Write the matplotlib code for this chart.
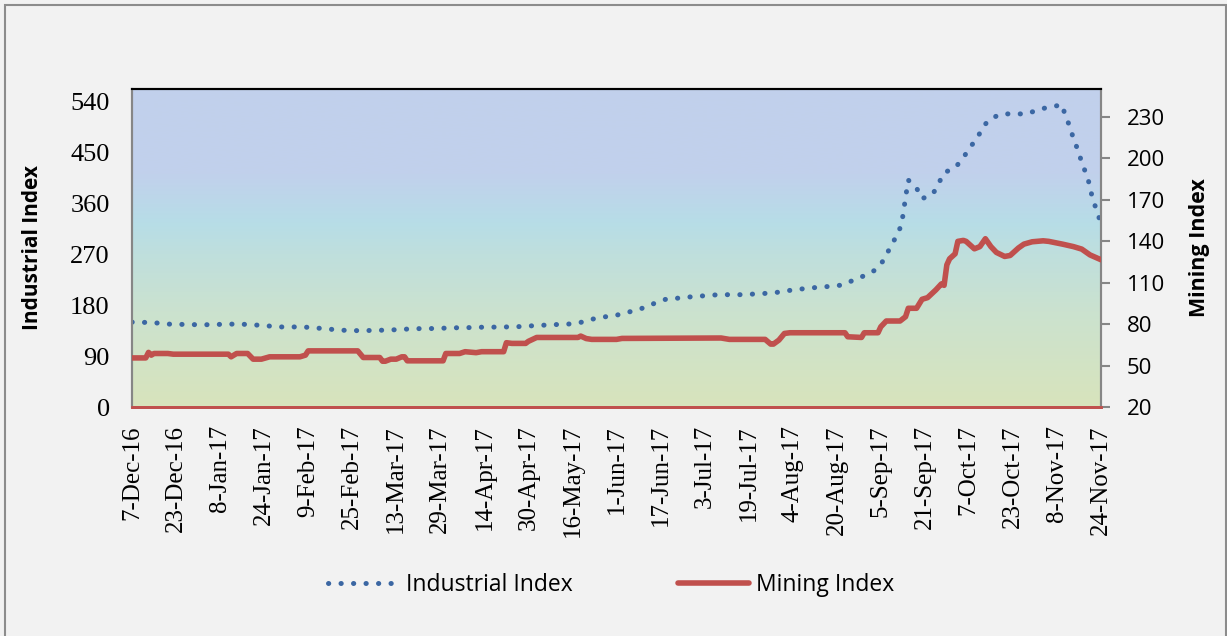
"""
Industrial vs Mining index, Dec-2016 to Nov-2017 (dual axis, Excel look).
"""
import numpy as np
import pandas as pd
import matplotlib
matplotlib.use("Agg")
import matplotlib.pyplot as plt
import matplotlib.dates as mdates
from matplotlib.colors import LinearSegmentedColormap
from matplotlib.patches import Rectangle

BLUE = "#3b67a3"
RED = "#c0504d"
BG = "#f2f2f2"
SERIF = ["Liberation Serif", "DejaVu Serif"]
SANS = ["Open Sans", "DejaVu Sans"]

START = pd.Timestamp("2016-12-07")

# days after 7-Dec-2016 and index values
IND_DAYS = [0, 2, 7, 11, 16, 21, 25, 30, 34, 39, 43, 48, 52, 57, 62, 66, 71,
            75, 80, 84, 89, 93, 98, 102, 107, 112, 116, 121, 125, 130, 134,
            139, 143, 148, 152, 157, 162, 166, 171, 175, 179, 183, 187, 191,
            195, 200, 204, 208, 213, 218, 222, 227, 231, 236, 240, 245, 249,
            253, 258, 262, 266, 270, 273, 275, 277, 279, 280, 281, 282, 285,
            287, 291, 293, 295, 299, 302, 304, 307, 309, 312, 316, 320, 325,
            329, 333, 338, 339, 341, 342, 344, 345, 347, 348, 349, 351, 352]
IND_VALUES = [150, 149, 150, 147, 146, 146, 145, 146, 146, 147, 145, 144.5,
              141.5, 141.5, 141.5, 140, 138, 136, 135, 135, 135.5, 136, 137,
              138.5, 138.5, 139, 140, 140, 141, 141, 141.5, 141.5, 143, 144,
              145.5, 146, 148, 154, 159, 161, 166, 171, 177, 186, 192, 192.5,
              195.5, 196.5, 198.5, 198.5, 198.5, 200, 201, 203.5, 207, 209.5,
              211.5, 213, 215.5, 224, 232, 242, 259, 278, 296, 316, 337, 370,
              401, 387, 368, 377, 395, 414, 423, 440, 457, 474, 495, 510, 518,
              518, 518, 525, 530, 534, 514, 493, 472, 451, 430, 409, 388, 367,
              340, 321]

MIN_DAYS = [0, 5, 6, 7, 8, 13, 15, 35, 36, 38, 42, 44, 47, 50, 61, 63, 64,
            82, 84, 90, 91, 92, 94, 96, 98, 99, 100, 113, 114, 119, 121, 125,
            127, 135, 136, 138, 143, 144, 147, 162, 163, 165, 167, 176, 178,
            214, 217, 230, 232, 233, 235, 237, 239, 241, 259, 260, 265, 266,
            271, 272, 274, 279, 281, 282, 285, 287, 289, 292, 294, 295, 296,
            297, 299, 300, 302, 303, 306, 308, 310, 312, 314, 317, 319, 322,
            324, 327, 331, 333, 338, 342, 345, 348, 352]
MIN_VALUES = [55.5, 55.5, 59.5, 57.5, 58.7, 58.7, 58.2, 58.2, 56.3, 58.7,
              58.7, 54.6, 54.6, 56.3, 56.3, 57.5, 60.6, 60.6, 55.8, 55.8,
              53.1, 53.1, 54.6, 54.6, 56.3, 56.3, 53.4, 53.4, 58.7, 58.7, 60,
              59.3, 60, 60, 66.5, 66, 66, 67.5, 70.3, 70.3, 71.3, 69.5, 68.9,
              68.9, 69.6, 69.9, 68.9, 68.9, 65.5, 65.5, 68.4, 73.2, 73.7,
              73.7, 73.7, 70.8, 70.3, 73.7, 73.7, 78, 82.2, 82.2, 85.3, 91.4,
              91.4, 97.9, 99.1, 104.7, 109, 108, 122.8, 127.2, 130.8, 139.8,
              140.5, 139.8, 134.4, 136, 141.7, 136, 131.8, 128.9, 129.6, 135,
              137.8, 139.5, 140.2, 139.8, 137.8, 136, 134.2, 130, 126.5]

TICK_STEP_DAYS = 16
IND_TICKS = [0, 90, 180, 270, 360, 450, 540]
MIN_TICKS = [20, 50, 80, 110, 140, 170, 200, 230]

ind_dates = START + pd.to_timedelta(IND_DAYS, unit="D")
min_dates = START + pd.to_timedelta(MIN_DAYS, unit="D")
end = START + pd.Timedelta(days=352)
xticks = pd.date_range(START, end, freq=f"{TICK_STEP_DAYS}D")

fig = plt.figure(figsize=(12.27, 6.36), dpi=100, facecolor=BG)
fig.patches.append(Rectangle((5 / 1227, -0.01), 1221 / 1227, 1.0 - 5 / 636 + 0.01,
                             transform=fig.transFigure, fill=False,
                             edgecolor="#8c8c8c", linewidth=1.5))

ax = fig.add_axes([132 / 1227, 229 / 636, 969 / 1227, 318 / 636])
ax2 = ax.twinx()

# plot-area gradient: green-beige at bottom, cyan middle, lavender-blue top
cmap = LinearSegmentedColormap.from_list(
    "plotarea",
    [(0.0, "#d8e4bc"), (0.3, "#cbe2cf"), (0.48, "#bfdfdd"),
     (0.58, "#b7dde7"), (0.73, "#c1d1ec"), (1.0, "#c2d0ec")])
grad = np.linspace(0, 1, 256).reshape(-1, 1)
ax.imshow(grad, extent=[0, 1, 0, 1], transform=ax.transAxes, origin="lower",
          aspect="auto", cmap=cmap, zorder=0, interpolation="bicubic")

ax.plot(ind_dates, IND_VALUES, color=BLUE, linewidth=3.6,
        linestyle=(0, (0.05, 2.45)), dash_capstyle="round", zorder=3,
        label="Industrial Index")
ax2.plot(min_dates, MIN_VALUES, color=RED, linewidth=4.0,
         solid_joinstyle="round", solid_capstyle="round", zorder=3,
         label="Mining Index")

ax.set_xlim(START, end)
ax.set_ylim(0, 562)
ax2.set_ylim(20, 250)

ax.set_xticks(xticks)
ax.xaxis.set_major_formatter(
    plt.FuncFormatter(lambda v, _: (lambda d: f"{d.day}-{d:%b-%y}")(mdates.num2date(v))))
for lab in ax.get_xticklabels():
    lab.set_rotation(90)
    lab.set_fontfamily(SERIF)
    lab.set_fontsize(18)
ax.tick_params(axis="x", length=0, pad=13)

ax.set_yticks(IND_TICKS)
ax.tick_params(axis="y", length=0, pad=16, labelsize=19)
for lab in ax.get_yticklabels():
    lab.set_fontfamily(SERIF)
ax2.set_yticks(MIN_TICKS)
ax2.tick_params(axis="y", length=6.5, width=1.5, color="#868686", pad=12,
                labelsize=16)
for lab in ax2.get_yticklabels():
    lab.set_fontfamily(SANS)

for a in (ax, ax2):
    a.spines["top"].set_color("#000000")
    a.spines["top"].set_linewidth(1.5)
    a.spines["left"].set_color("#868686")
    a.spines["left"].set_linewidth(1.5)
    a.spines["right"].set_color("#868686")
    a.spines["right"].set_linewidth(1.5)
    a.spines["bottom"].set_color(RED)
    a.spines["bottom"].set_linewidth(2)

ax.set_ylabel("Industrial Index", fontfamily=SANS, fontsize=15,
              fontweight="bold")
ax.yaxis.set_label_coords((43 - 132) / 969, 0.5)
ax2.set_ylabel("Mining Index", fontfamily=SANS, fontsize=15.5,
               fontweight="bold", rotation=90)
ax2.yaxis.set_label_coords((1189 - 132) / 969, 0.5)

h1, l1 = ax.get_legend_handles_labels()
h2, l2 = ax2.get_legend_handles_labels()
fig.legend(h1 + h2, l1 + l2, loc="center", ncol=2, frameon=False,
           bbox_to_anchor=(611 / 1227, 51 / 636),
           prop={"family": SANS, "size": 16.5},
           handlelength=3.1, handletextpad=0.3, columnspacing=4.6)

fig.savefig("out.png", dpi=100, facecolor=BG)
